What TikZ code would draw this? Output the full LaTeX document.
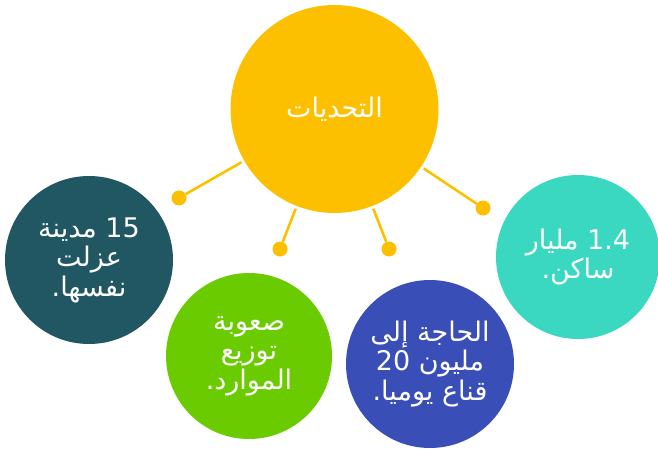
\documentclass[tikz,border=0pt]{standalone}
\usepackage{fontspec}
\TeXXeTstate=1
\newfontfamily\arabicfont[Script=Arabic]{DejaVu Sans}
\definecolor{cyellow}{HTML}{FCC000}
\definecolor{cdark}{HTML}{215763}
\definecolor{cgreen}{HTML}{6ACC00}
\definecolor{cblue}{HTML}{3A4EB7}
\definecolor{cteal}{HTML}{3AD8C0}
\begin{document}
\begin{tikzpicture}[x=1pt,y=-1pt,
  bubble/.style={circle,inner sep=0pt,text=white,align=center,
    font=\arabicfont\fontsize{27}{29.5}\selectfont},
  dot/.style={circle,fill=cyellow,inner sep=0pt,minimum size=15pt},
  link/.style={draw=cyellow,line width=2.6pt,shorten <=3pt}]
\useasboundingbox (0,0) rectangle (658,449);
\node[bubble,fill=cyellow,minimum size=208pt] (c) at (334.5,109) {\beginR التحديات\endR};
\node[bubble,fill=cdark,minimum size=168pt] (a) at (89,260)
  {\beginR\beginL 15\endL{} مدينة\endR\\\beginR عزلت\endR\\\beginR نفسها.\endR};
\node[bubble,fill=cgreen,minimum size=166pt] (b) at (249,356)
  {\beginR صعوبة\endR\\\beginR توزيع\endR\\\beginR الموارد.\endR};
\node[bubble,fill=cblue,minimum size=168pt] (d) at (430,364)
  {\beginR الحاجة إلى\endR\\\mbox{20}\ \mbox{مليون}\\\beginR قناع يوميا.\endR};
\node[bubble,fill=cteal,minimum size=164pt] (e) at (578,257)
  {\beginR\beginL 1.4\endL{} مليار\endR\\\beginR ساكن.\endR};
\node[dot] (d1) at (179,198) {};
\node[dot] (d2) at (280,249) {};
\node[dot] (d3) at (389,249) {};
\node[dot] (d4) at (483,208) {};
\draw[link] (c) -- (d1);
\draw[link] (c) -- (d2);
\draw[link] (c) -- (d3);
\draw[link] (c) -- (d4);
\end{tikzpicture}
\end{document}
